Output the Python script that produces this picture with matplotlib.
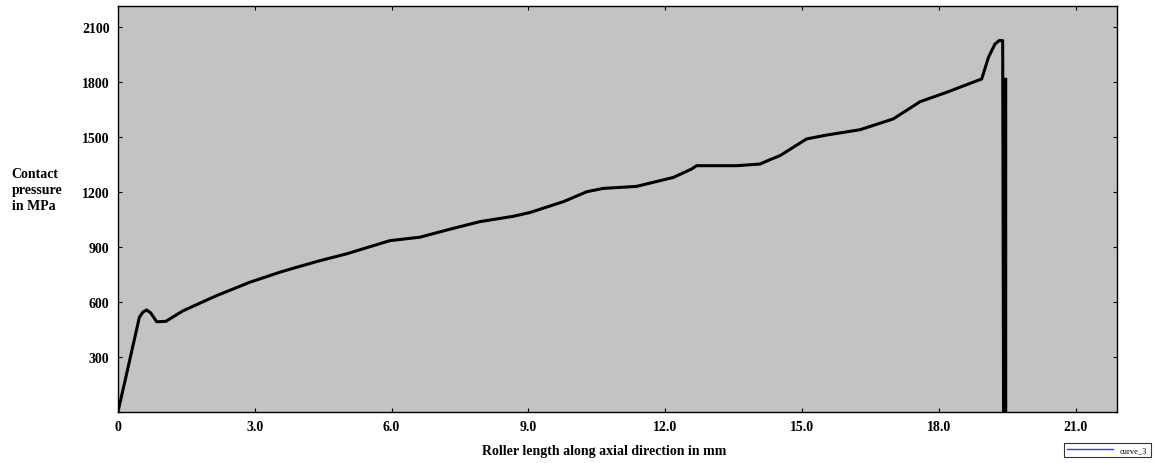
import matplotlib.pyplot as plt
from matplotlib.lines import Line2D

# datos (mm, MPa)
x_mm = [0.0, 0.17, 0.47, 0.55, 0.63, 0.72, 0.85, 1.05, 1.43, 2.16, 2.89, 3.55,
        3.92, 4.43, 5.01, 5.96, 6.62, 7.35, 7.94, 8.67, 9.04, 9.77, 10.28,
        10.64, 11.37, 12.18, 12.58, 12.69, 13.57, 14.08, 14.30, 14.52, 15.10,
        15.54, 16.27, 17.00, 17.59, 18.17, 18.94, 19.09, 19.23, 19.32, 19.40,
        19.42]
p_mpa = [0, 185, 516, 545, 556, 540, 492, 494, 552, 634, 707, 762,
         789, 825, 862, 934, 953, 1001, 1038, 1067, 1088, 1147, 1201,
         1219, 1230, 1279, 1325, 1343, 1343, 1352, 1376, 1398, 1489,
         1510, 1539, 1598, 1692, 1743, 1816, 1935, 2006, 2025, 2025,
         0]

# barra vertical gruesa al final
x_end = [19.46, 19.46]
p_end = [1810, 0]

x_ticks = [0, 3, 6, 9, 12, 15, 18, 21]
x_labels = ['0', '3.0', '6.0', '9.0', '12.0', '15.0', '18.0', '21.0']
y_ticks = [0, 300, 600, 900, 1200, 1500, 1800, 2100]
y_labels = ['', '300', '600', '900', '1200', '1500', '1800', '2100']

plt.rcParams['font.family'] = ['Liberation Serif', 'DejaVu Serif']
plt.rcParams['font.weight'] = 'bold'

fig = plt.figure(figsize=(11.56, 4.64), dpi=100)
ax = fig.add_axes([0.102, 0.110, 0.864, 0.875])
ax.set_facecolor('#c3c3c3')

ax.plot(x_mm, p_mpa, color='black', linewidth=2.2)
ax.plot(x_end, p_end, color='black', linewidth=3.2)

ax.set_xlim(0, 21.9)
ax.set_ylim(0, 2214)
ax.set_xticks(x_ticks)
ax.set_xticklabels(x_labels, fontsize=10, fontweight='bold')
ax.set_yticks(y_ticks)
ax.set_yticklabels(y_labels, fontsize=10, fontweight='bold')
ax.tick_params(direction='in', length=3, width=0.8, top=True, right=True, pad=6)
for s in ax.spines.values():
    s.set_linewidth(1.0)

fig.text(0.010, 0.59, 'Contact\npressure\nin MPa', fontsize=10, fontweight='bold',
         ha='left', va='center', linespacing=1.3)
fig.text(0.523, 0.028, 'Roller length along axial direction in mm', fontsize=10,
         fontweight='bold', ha='center', va='center')

proxy = Line2D([], [], color='#3a3ad8', linewidth=1.0)
leg = fig.legend([proxy], ['curve_3'], loc='lower right', bbox_to_anchor=(0.999, 0.003),
                 frameon=True, fancybox=False, handlelength=5.5,
                 borderpad=0.4, prop={'size': 6, 'weight': 'normal'})
leg.get_frame().set_edgecolor('black')
leg.get_frame().set_linewidth(0.8)

fig.savefig('out.png', dpi=100)
